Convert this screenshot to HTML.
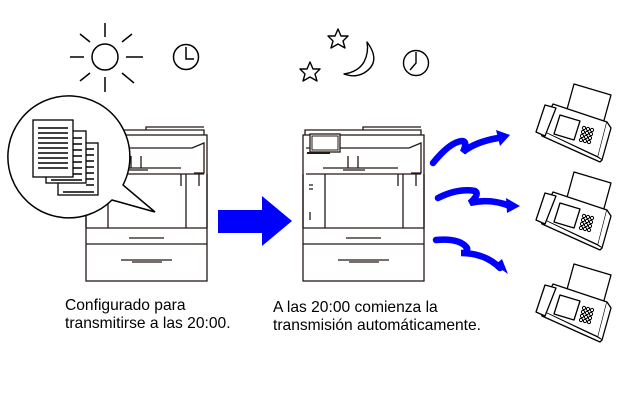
<!DOCTYPE html>
<html><head><meta charset="utf-8"><style>
html,body{margin:0;padding:0;background:#fff;}
svg{display:block;}
text{font-family:"Liberation Sans",Arial,sans-serif;font-size:15.6px;fill:#000;}
</style></head><body>
<svg width="631" height="409" viewBox="0 0 631 409" xmlns="http://www.w3.org/2000/svg">
<defs>
<g id="copier" fill="none" stroke="#231815" stroke-width="1.3">
  <rect x="0" y="7" width="121" height="146" fill="#fff"/>
  <path d="M2 7 V2 H118 V7"/>
  <path d="M60 2 V-1 H118"/>
  <path d="M3 20 H106 L118 15 V45 H108 M3 46 H118"/>
  <path d="M20 40 H95 M45 28 V40 M55 28 V40 M40 42 H62"/>
  <path d="M0 46 V100 M121 46 V100"/>
  <path d="M22 46 V100 M100 46 V100 M95 46 V58 M113 46 V58"/>
  <path d="M0 100 H121 M0 116 H121"/>
  <path d="M43 110 H78 M35 132 H86 M46 134 H76"/>
</g>
<g id="fax" fill="#fff" stroke="#000" stroke-width="1.3" stroke-linejoin="round">
  <path d="M574 84 L611 95 L603 124 L566 113 Z"/>
  <path d="M553 104 L607 122 L598 157 L540 130 Z"/>
  <path d="M607 122 L611 128 L602 160 L598 157"/>
  <path d="M540 130 L542 136 L600 162 L602 160"/>
  <path d="M545 105 L556 108 L545 136 L536 132 Z"/>
  <path d="M560 115 L580 121 L574 140 L554 134 Z"/>
  <g fill="none" stroke-width="1">
    <circle cx="584" cy="128" r="1.6"/><circle cx="588" cy="129" r="1.6"/><circle cx="592" cy="130" r="1.6"/>
    <circle cx="583" cy="132" r="1.6"/><circle cx="587" cy="133" r="1.6"/><circle cx="591" cy="134" r="1.6"/>
    <circle cx="582" cy="136" r="1.6"/><circle cx="586" cy="137" r="1.6"/><circle cx="590" cy="138" r="1.6"/>
    <circle cx="581" cy="140" r="1.6"/><circle cx="585" cy="141" r="1.6"/><circle cx="589" cy="142" r="1.6"/>
  </g>
</g>
</defs>

<g stroke="#000" stroke-width="1.5" fill="none">
  <circle cx="105" cy="57" r="13"/>
  <path d="M105 23 V37 M105 77 V92 M70 57 H84 M126 57 H143 M80 34 L90 42 M122 42 L132 34 M80 81 L90 73 M122 73 L134 83"/>
  <circle cx="186" cy="57" r="12.5"/>
  <path d="M186 47 V59 H194"/>
</g>

<use href="#copier" x="86" y="128"/>

<path d="M112 200 A61 61 0 1 1 123 185 L155 212 Z" fill="#fff" stroke="#000" stroke-width="1.5"/>
<g fill="#fff" stroke="#000" stroke-width="1.3">
  <rect x="58" y="143" width="40" height="52"/>
  <rect x="46" y="131" width="40" height="52"/>
  <rect x="33" y="120" width="40" height="57"/>
  <path d="M38 128 H68 M38 133 H68 M38 138 H68 M38 143 H68 M38 148 H68 M38 153 H68 M38 158 H68 M38 163 H68 M38 168 H68" stroke-width="1.6"/>
  <path d="M73 138 H82 M73 144 H82 M73 150 H82 M73 156 H82 M73 162 H82 M73 168 H82 M73 174 H82 M51 180 H82" stroke-width="1.6"/>
  <path d="M86 149 H94 M86 155 H94 M86 161 H94 M86 167 H94 M86 173 H94 M86 179 H94 M86 185 H94 M63 192 H94" stroke-width="1.6"/>
</g>

<path d="M218 210 H262 V196 L292 221 L262 246 V233 H218 Z" fill="#0000ff"/>

<g stroke="#000" stroke-width="1.4" fill="none" stroke-linejoin="round">
  <path d="M338 29 L341 36 L348 36 L343 41 L345 48 L338 44 L331 48 L333 41 L328 36 L335 36 Z"/>
  <path d="M310 62 L313 69 L320 69 L315 74 L317 81 L310 77 L303 81 L305 74 L300 69 L307 69 Z"/>
  <path d="M367 42 Q382 62 364 73 Q355 78 344 74 Q358 72 364 62 Q369 52 367 42 Z"/>
  <circle cx="416" cy="63" r="12.5"/>
  <path d="M416 52 V63 L410 70"/>
</g>

<use href="#copier" x="303" y="128"/>
<rect x="310" y="134" width="30" height="18" fill="#fff" stroke="#231815" stroke-width="1.3"/>
<rect x="312" y="136" width="26" height="14" fill="none" stroke="#231815" stroke-width="1"/>
<path d="M307 153 H330" stroke="#231815" stroke-width="2"/>
<path d="M309 185 H313 M309 189 H313 M310 212 V220" stroke="#231815" stroke-width="1.3"/>

<g fill="none" stroke="#0000ff" stroke-width="6.5" stroke-linecap="round">
  <path d="M433 163 Q450 142 462 141 Q468 141 463 152 Q475 142 498 138"/>
  <path d="M438 198 Q458 188 475 191 Q480 194 470 203 Q490 198 510 206"/>
  <path d="M436 240 Q460 238 467 248 Q468 253 461 253 Q485 253 500 268"/>
</g>
<g fill="#0000ff">
  <path d="M496 130 L510 135 L500 146 Z"/>
  <path d="M506 198 L520 206 L507 213 Z"/>
  <path d="M495 265 L508 274 L502 259 Z"/>
</g>

<use href="#fax"/>
<use href="#fax" y="88"/>
<use href="#fax" y="180"/>

<text x="65" y="310">Configurado para</text>
<text x="65" y="328">transmitirse a las 20:00.</text>
<text x="273" y="312">A las 20:00 comienza la</text>
<text x="273" y="330">transmisión automáticamente.</text>
</svg>
</body></html>
